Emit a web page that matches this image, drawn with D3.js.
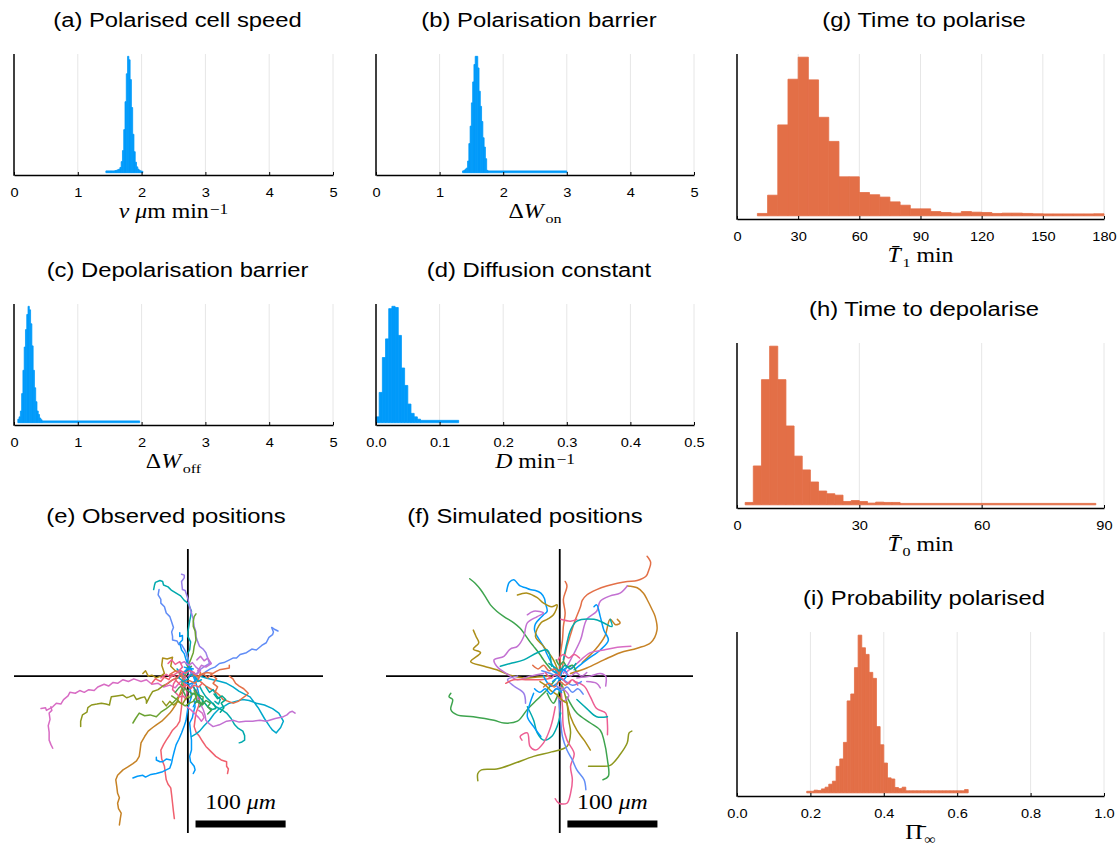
<!DOCTYPE html>
<html>
<head>
<meta charset="utf-8">
<script src="https://cdn.jsdelivr.net/npm/d3@7"></script>
<style>
  body { margin: 0; background: #fff; }
  svg { display: block; }
</style>
</head>
<body>
<svg id="fig" width="1118" height="848"></svg>
<script>
// ---------- posterior histograms (relative counts) ----------
const speedStart = 1.44, speedWidth = 0.02;
const speedCounts = [15, 15, 15, 15, 15, 15, 15, 18, 20, 25, 30, 45, 95, 190, 370, 610, 850, 1000, 970, 800, 560, 330, 180, 90, 50, 30, 20, 15, 12];

const onStart = 1.36, onWidth = 0.02;
const onCounts = [15, 20, 30, 40, 100, 250, 400, 600, 780, 930, 1000, 1000, 900, 700, 570, 440, 300, 220, 120, 20];
const onTail = [1.76, 3.0, 15];

const offStart = 0.06, offWidth = 0.02;
const offCounts = [30, 50, 100, 250, 450, 650, 800, 930, 1000, 970, 850, 660, 450, 300, 180, 100, 70, 40, 25];
const offTail = [0.44, 1.97, 15];

const diffStart = 0.0, diffWidth = 0.005;
const diffCounts = [50, 260, 560, 720, 980, 1000, 990, 750, 470, 320, 160, 80, 50, 30];
const diffTail = [0.07, 0.13, 20];

const t1Start = 10, t1Width = 5;
const t1Counts = [15, 130, 573, 861, 1000, 857, 621, 469, 246, 246, 147, 133, 118, 88, 67, 44, 44, 27, 21, 17, 27, 23, 21, 15, 17, 17, 15, 13, 12, 12, 12, 12, 12, 13];

const t0Start = 2, t0Width = 2;
const t0Counts = [15, 245, 789, 1000, 789, 497, 307, 220, 144, 87, 70, 61, 21, 27, 21, 11, 17, 15, 15];
const t0Tail = [40, 88, 9];

const piStart = 0.19, piWidth = 0.01;
const piCounts = [10, 10, 17, 15, 25, 36, 55, 74, 168, 215, 320, 583, 627, 794, 1000, 920, 878, 764, 726, 420, 305, 189, 95, 88, 34, 27, 36,
  13, 13, 13, 13, 13, 13, 13, 13, 13, 13, 13, 13, 13, 13, 13, 13, 21];

// ---------- tick values ----------
const unitTicks = [0, 1, 2, 3, 4, 5];
const diffTicks = [0, 0.1, 0.2, 0.3, 0.4, 0.5];
const t1Ticks = [0, 30, 60, 90, 120, 150, 180];
const t0Ticks = [0, 30, 60, 90];
const piTicks = [0, 0.2, 0.4, 0.6, 0.8, 1.0];

// ---------- cell tracks, positions in micrometres relative to start ----------
const observedTracks = [
  [[-38,96],[-37,101],[-36,104],[-31,106],[-28,105],[-27,101],[-22,99],[-18,95],[-13,92],[-8,89],[-4,84],[0,81],[2,77],[4,72],[3,66],[2,61],[1,55],[0,49],[0,44],[3,38],[2,29],[-1,24],[0,19],[-2,14],[1,9],[0,3]],
  [[-32,96],[-33,90],[-30,85],[-30,81],[-26,77],[-24,70],[-20,66],[-18,60],[-16,54],[-18,49],[-17,44],[-17,40],[-12,39],[-10,35],[-7,35],[-4,30],[-2,26],[0,20],[2,11],[3,5],[4,0]],
  [[-7,113],[-4,112],[-4,109],[-7,105],[-6,96],[-3,95],[-2,92],[0,86],[2,77],[4,70],[6,63],[7,55],[9,49],[9,44],[11,38],[13,33],[17,30],[20,26],[22,20],[24,14],[19,11],[13,7],[10,3],[6,0]],
  [[9,69],[7,66],[6,61],[6,55],[8,50],[9,40],[7,33],[6,26],[3,18],[0,11],[-2,4],[-4,-4]],
  [[-9,48],[-9,44],[-6,45],[-6,40],[-9,37],[-7,29],[-4,25],[-2,18],[1,12],[4,7],[6,0],[9,-8],[11,-15],[13,-23],[9,-28],[6,-34]],
  [[100,50],[96,52],[93,54],[95,49],[94,46],[90,43],[87,37],[82,34],[76,29],[71,30],[65,26],[58,24],[54,20],[50,20],[44,17],[40,15],[35,14],[30,10],[25,8],[20,5],[15,1],[9,-4],[5,-9],[2,-15]],
  [[-163,-36],[-158,-35],[-157,-38],[-150,-34],[-146,-30],[-141,-31],[-138,-26],[-133,-22],[-131,-18],[-125,-19],[-120,-16],[-115,-18],[-110,-15],[-104,-16],[-100,-12],[-93,-9],[-88,-11],[-83,-7],[-78,-8],[-72,-4],[-66,-6],[-60,-3],[-52,-6],[-46,-4],[-40,-9],[-33,-8],[-27,-12],[-20,-10],[-14,-13],[-9,-7],[-4,-4],[-2,-1]],
  [[-152,-34],[-151,-38],[-154,-41],[-153,-48],[-155,-55],[-154,-62],[-154,-71],[-152,-76],[-150,-80]],
  [[-119,-56],[-119,-50],[-117,-43],[-112,-40],[-111,-35],[-107,-32],[-101,-31],[-96,-30],[-91,-31],[-87,-32],[-86,-27],[-85,-23],[-79,-22],[-72,-21],[-68,-24],[-65,-23],[-60,-21],[-57,-26],[-52,-24],[-48,-23],[-46,-27],[-46,-30],[-42,-22],[-39,-17],[-33,-15],[-28,-11],[-22,-8],[-17,-4],[-11,-2],[-7,1]],
  [[-61,-52],[-58,-47],[-54,-41],[-48,-44],[-42,-43],[-35,-45],[-30,-40],[-24,-36],[-19,-32],[-13,-26],[-9,-21],[-4,-15]],
  [[-76,-165],[-75,-158],[-74,-152],[-77,-147],[-78,-141],[-76,-135],[-78,-130],[-79,-122],[-80,-115],[-78,-110],[-72,-104],[-67,-101],[-61,-97],[-57,-94],[-54,-89],[-53,-82],[-52,-74],[-48,-67],[-44,-61],[-39,-57],[-35,-54],[-29,-50],[-24,-45],[-20,-41],[-17,-37],[-13,-31],[-11,-26],[-9,-20],[-7,-15],[-5,-9],[-4,-4]],
  [[-50,3],[-47,6],[-44,0],[-40,1],[-35,-2],[-30,0],[-26,3],[-29,12],[-28,20],[-23,19],[-17,21],[-18,16],[-19,11],[-14,6],[-9,3]],
  [[-15,-158],[-16,-150],[-17,-141],[-18,-132],[-19,-124],[-22,-120],[-24,-115],[-25,-108],[-26,-100],[-29,-92],[-30,-82],[-27,-76],[-24,-71],[-20,-65],[-17,-60],[-12,-55],[-9,-50],[-8,-42],[-7,-34],[-7,-26],[-6,-19],[-4,-13],[-2,-8]],
  [[-61,-113],[-56,-111],[-50,-110],[-47,-112],[-41,-109],[-35,-108],[-28,-106],[-20,-102],[-18,-96],[-17,-91],[-15,-83],[-13,-76],[-10,-70],[-7,-63],[-4,-55],[-2,-49],[-1,-42],[0,-36],[2,-29],[4,-23],[3,-16],[2,-11]],
  [[-35,-90],[-35,-93],[-31,-95],[-28,-95],[-24,-92],[-19,-93]],
  [[6,-108],[8,-104],[7,-100],[3,-95],[2,-89],[4,-82],[4,-71],[3,-62],[2,-52],[5,-46],[6,-41],[8,-34],[7,-26]],
  [[44,-108],[45,-103],[43,-100],[43,-95],[37,-93],[31,-89],[26,-84],[20,-78],[16,-72],[13,-67],[9,-62],[7,-56],[8,-48],[9,-41],[12,-33],[13,-26],[11,-20],[9,-15]],
  [[4,-67],[9,-64],[13,-61],[18,-55],[24,-49],[29,-42],[35,-36],[41,-33],[46,-30],[53,-28],[61,-26],[68,-27],[76,-30],[85,-32],[94,-36],[101,-41],[106,-50],[103,-57],[98,-63],[94,-60],[91,-56],[85,-47],[78,-35],[69,-23],[63,-20],[57,-17],[50,-12],[43,-8],[36,-6],[28,-4],[20,-2],[13,0]],
  [[57,-74],[60,-73],[63,-71],[63,-66],[61,-61],[56,-58],[52,-54],[48,-47],[43,-41],[37,-37],[31,-34],[25,-28],[20,-23],[16,-17],[13,-11]],
  [[119,-41],[116,-39],[113,-40],[110,-43],[106,-45],[97,-47],[87,-50],[80,-49],[72,-50],[64,-50],[57,-51],[50,-49],[43,-50],[35,-54],[28,-56],[24,-53],[20,-49],[19,-43],[17,-37],[14,-31],[11,-26],[8,-18],[6,-11]],
  [[46,0],[50,-3],[53,-8],[57,-11],[62,-14],[67,-19],[64,-22],[61,-24],[56,-28],[50,-30],[45,-28],[39,-26],[35,-21],[30,-17],[25,-14],[20,-11],[15,-7],[11,-4]],
  [[46,12],[46,9],[40,8],[35,7],[31,5],[28,3],[21,4],[15,2],[10,-1],[5,0]],
  [[13,-34],[16,-29],[17,-23],[12,-21],[6,-19],[2,-24],[-2,-23],[-5,-17],[-7,-11],[-6,-4],[-4,3],[0,7],[4,11]],
  [[-13,-4],[-16,-9],[-17,-15],[-13,-19],[-9,-23],[-5,-22],[-2,-26],[-1,-18],[-4,-8],[-6,3]],
  [[28,-30],[30,-33],[31,-36],[27,-37],[22,-34],[18,-29],[13,-23],[9,-17],[6,-11]],
  [[-4,10],[-1,9],[3,6],[6,2],[9,-4],[6,-7],[2,-9],[-3,-7],[-6,-3],[-5,2],[-3,6],[2,9],[6,8]],
  [[-20,2],[-15,5],[-10,6],[-7,0],[-4,-6],[2,-5],[8,-8],[12,-3],[14,4]],
  [[-14,-18],[-10,-13],[-6,-10],[-3,-14],[0,-16],[4,-19],[8,-20],[9,-24],[10,-28],[14,-31],[18,-30]],
  [[-25,-10],[-20,-6],[-15,-3],[-11,-7],[-6,-12],[-1,-10],[3,-14],[7,-10],[12,-12],[16,-8]],
  [[-8,14],[-4,16],[1,12],[5,15],[9,10],[14,6],[10,2],[5,4],[0,0]],
  [[-12,8],[-8,4],[-10,-2],[-5,-6],[0,-3],[4,2],[8,0],[11,-6],[15,-4]],
  [[-18,-22],[-12,-26],[-8,-30],[-3,-33],[2,-30],[6,-28],[10,-22],[7,-16]],
  [[20,-12],[24,-18],[28,-15],[32,-22],[36,-26],[34,-31],[30,-28]],
  [[-30,-2],[-24,2],[-19,-1],[-13,3],[-8,6],[-3,3],[2,6],[7,4]],
  [[12,-38],[16,-41],[18,-46],[15,-50],[12,-46],[8,-42],[4,-38],[-1,-34]],
  [[-40,-8],[-36,-3],[-30,-6],[-26,-1],[-21,-4],[-18,2],[-12,-2],[-8,3],[-3,-1]],
  [[30,-18],[33,-12],[28,-8],[32,-3],[26,2],[22,-2],[17,3],[12,-1],[6,2]],
  [[-28,-28],[-24,-33],[-20,-28],[-16,-32],[-11,-28],[-6,-31],[-3,-26],[1,-22]],
  [[22,-42],[26,-38],[22,-34],[25,-30],[20,-27],[16,-32],[12,-27],[8,-30]],
  [[-22,14],[-18,18],[-14,13],[-9,16],[-6,10],[-10,6],[-4,4]],
  [[10,18],[14,22],[18,17],[22,20],[26,14],[20,10],[15,12],[11,6]],
  [[36,-40],[40,-35],[37,-30],[42,-26],[38,-22],[33,-25],[29,-20]]
];
const observedSeries = [5,12,11,15,0,12,14,14,9,15,7,4,13,0,0,0,13,10,5,3,1,1,2,6,8,0,1,2,13,3,10,15,5,6,14,13,1,9,2,6,3,8];

const simulatedTracks = [
  [[-100,108],[-94,103],[-88,96],[-82,87],[-77,79],[-70,72],[-62,66],[-51,59],[-44,53],[-40,48],[-33,38],[-29,33],[-22,24],[-18,18],[-9,7],[-1,1]],
  [[-59,94],[-58,99],[-56,104],[-51,107],[-47,103],[-44,100],[-38,98],[-33,96],[-27,95],[-21,92],[-17,86],[-16,81],[-14,72],[-18,68],[-21,65],[-27,58],[-28,51],[-25,44],[-18,33],[-14,24],[-9,14],[-3,3]],
  [[-47,90],[-36,92],[-25,87],[-18,81],[-9,77],[-3,79],[-7,68],[-14,63],[-21,59],[-27,44],[-18,33],[-7,18],[-1,3]],
  [[-96,51],[-93,44],[-90,37],[-96,30],[-88,26],[-99,16],[-84,11],[-70,7],[-55,1],[-40,-2],[-25,-1],[-10,0]],
  [[97,133],[101,126],[99,118],[96,111],[86,106],[75,105],[64,103],[52,100],[41,96],[30,90],[25,84],[23,77],[16,59],[12,46],[8,33],[3,11],[1,1]],
  [[75,100],[86,98],[93,92],[97,85],[102,75],[106,66],[108,51],[101,37],[86,31],[67,26],[49,18],[30,9],[12,3]],
  [[64,63],[67,59],[62,57],[56,63],[50,44],[40,30],[25,15]],
  [[75,100],[67,92],[56,89],[45,83],[41,72],[30,63],[23,40],[12,18],[4,3]],
  [[38,77],[41,79],[45,66],[49,51],[54,40],[45,29],[30,18],[16,7]],
  [[56,63],[58,55],[49,59],[38,63],[19,61],[12,51],[8,37],[4,18]],
  [[79,33],[64,32],[49,29],[34,26],[19,14],[8,5]],
  [[6,105],[8,100],[4,85],[6,70],[4,55],[3,40],[1,26],[0,3]],
  [[1,63],[12,61],[19,63]],
  [[-36,68],[-29,72],[-18,70],[-25,66],[-36,59],[-40,44],[-47,33],[-55,30],[-62,22],[-73,18],[-70,11],[-58,2],[-47,-4],[-33,0],[-18,3]],
  [[-66,11],[-55,14],[-40,18],[-25,26],[-14,29],[-9,11]],
  [[-121,-19],[-123,-23],[-119,-26],[-121,-37],[-114,-43],[-96,-45],[-73,-49],[-62,-52],[-47,-50],[-36,-37],[-25,-26],[-14,-15],[-5,-4]],
  [[-91,-116],[-91,-108],[-87,-104],[-70,-103],[-51,-97],[-29,-89],[-9,-84],[8,-78],[12,-63],[10,-49],[8,-30],[3,-11]],
  [[-5,-136],[-1,-141],[8,-141],[12,-130],[14,-115],[12,-100],[16,-86],[8,-71],[4,-56],[3,-34],[1,-11]],
  [[29,-126],[27,-115],[19,-104],[14,-93],[8,-82],[3,-67],[1,-49],[-1,-26]],
  [[80,-61],[77,-63],[75,-74],[67,-87],[56,-99],[45,-100],[32,-100]],
  [[48,-115],[54,-111],[53,-93],[49,-71],[45,-60],[34,-52],[19,-41],[8,-23]],
  [[34,-82],[27,-71],[19,-60],[12,-45],[8,-30]],
  [[53,-65],[53,-54],[51,-41],[41,-36],[34,-23],[27,-11],[16,-6]],
  [[51,-11],[51,0],[45,3],[34,0],[19,-2]],
  [[45,-13],[41,-8],[30,-6]],
  [[53,-45],[41,-45],[30,-36],[19,-26]],
  [[-36,-34],[-29,-49],[-25,-63],[-18,-71],[-9,-67],[-3,-56],[1,-41]],
  [[-42,-71],[-44,-67],[-36,-63],[-33,-78],[-27,-82],[-18,-74],[-10,-56],[-5,-34]],
  [[-29,-19],[-33,-30],[-36,-45],[-29,-56],[-21,-67]],
  [[-38,-30],[-40,-19],[-51,-11],[-58,-4],[-47,0]],
  [[-60,-8],[-51,-4],[-36,-4],[-21,-4],[-9,-2]],
  [[-18,0],[-10,-11],[-3,-8],[4,7],[12,11]],
  [[-14,-19],[-7,-30],[-3,-23],[3,-8]],
  [[-20,6],[-8,2],[4,-4],[14,-10],[24,-6]],
  [[-10,8],[-4,4],[2,8],[8,3],[4,-4],[-2,-2],[-8,-6]],
  [[12,-6],[6,-10],[0,-6],[-6,-12],[-12,-8],[-18,-12]],
  [[-4,18],[0,12],[4,16],[8,10],[14,12],[18,6]],
  [[-16,4],[-10,-2],[-4,2],[2,-2],[8,-8],[14,-4],[20,-10]],
  [[-6,-16],[0,-12],[6,-16],[10,-22],[4,-28],[-2,-24]],
  [[18,14],[12,8],[6,12],[0,6],[-6,10],[-12,14]],
  [[-22,-6],[-16,-10],[-10,-16],[-4,-20],[2,-26],[8,-30]],
  [[-30,12],[-24,8],[-18,12],[-12,6],[-6,8],[0,2]],
  [[26,-20],[20,-14],[14,-18],[8,-12],[2,-16],[-4,-10]],
  [[-28,-14],[-22,-18],[-16,-14],[-10,-20],[-4,-14],[2,-18]],
  [[22,20],[16,24],[10,20],[4,24],[-2,18]],
  [[30,4],[24,0],[18,4],[12,0],[6,4]]
];
const simulatedSeries = [2,0,4,4,1,7,7,3,0,5,14,1,6,3,5,2,9,6,12,9,2,4,6,3,3,5,5,6,0,11,13,0,2,12,0,1,2,6,3,5,4,1,12,0,6,3];

// scale bar: start and length (micrometres)
const scaleBar = [8.5, 100];

// ---------- styling ----------
const palette = ["#009AFA","#E36F47","#3EA44E","#C371D2","#AC8E18","#00A9AD","#ED5E93","#C68225",
                 "#00A98D","#8E971D","#00A8CB","#9B7FE9","#618DF6","#F0606E","#D86CC4","#6BA232"];
const BLUE = "#009AFA", ORANGE = "#E36F47";
const SANS = "'Liberation Sans', Arial, Helvetica, sans-serif";
const SERIF = "'Liberation Serif', 'Times New Roman', serif";
const SX = 1.19;   // horizontal stretch of the typeset text

const svg = d3.select("#fig");
svg.append("rect").attr("width", 1118).attr("height", 848).attr("fill", "#fff");

function stretched(parent, x, y) {
  return parent.append("g").attr("transform", `translate(${x},${y}) scale(${SX},1)`);
}

function title(text, cx, y) {
  stretched(svg, cx, y).append("text")
    .attr("text-anchor", "middle")
    .attr("font-family", SANS).attr("font-size", 20).attr("fill", "#000")
    .text(text);
}

// math-style label built from [text, kind] parts
function mathLabel(parts, cx, y) {
  const t = stretched(svg, cx, y).append("text")
    .attr("text-anchor", "middle")
    .attr("font-family", SERIF).attr("font-size", 20).attr("fill", "#000");
  let shift = 0;
  parts.forEach(([s, kind]) => {
    const ts = t.append("tspan").text(s);
    if (kind === "i") ts.attr("font-style", "italic");
    if (kind === "sub") { ts.attr("font-size", 13.5).attr("dy", 5 - shift).attr("dx", 1.5); shift = 5; }
    else if (kind === "sup") { ts.attr("font-size", 14.5).attr("dy", -4.5 - shift).attr("dx", 1); shift = -4.5; }
    else if (shift !== 0) { ts.attr("dy", -shift); shift = 0; }
  });
}

function histogram(p) {
  const xs = d3.scaleLinear().domain(p.domain).range([p.x0, p.x1]);
  const maxC = d3.max(p.counts);
  const ys = d3.scaleLinear().domain([-0.02 * maxC, 1.02 * maxC]).range([p.axis, p.top]);
  const g = svg.append("g");

  // vertical grid
  g.selectAll("line.grid").data(p.ticks.slice(1)).join("line")
    .attr("x1", d => xs(d)).attr("x2", d => xs(d))
    .attr("y1", p.top).attr("y2", p.axis)
    .attr("stroke", "#e6e6e6").attr("stroke-width", 1);

  const bins = p.counts.map((c, i) => ({ a: p.start + i * p.width, b: p.start + (i + 1) * p.width, c }));
  if (p.tail) bins.push({ a: p.tail[0], b: p.tail[1], c: p.tail[2] });

  g.selectAll("rect.bar").data(bins).join("rect")
    .attr("x", d => xs(d.a)).attr("width", d => xs(d.b) - xs(d.a))
    .attr("y", d => ys(d.c)).attr("height", d => ys(0) - ys(d.c))
    .attr("fill", p.color).attr("stroke", p.color).attr("stroke-width", 0.8)
    .attr("stroke-linejoin", "round");

  // axes
  const ax = d3.axisBottom(xs).tickValues(p.ticks).tickFormat(p.fmt)
    .tickSizeInner(-3).tickSizeOuter(0).tickPadding(13.5);
  const ag = g.append("g").attr("transform", `translate(0,${p.axis})`).call(ax);
  ag.select(".domain").attr("stroke", "#000").attr("stroke-width", 1.5);
  ag.selectAll(".tick line").attr("stroke", "#000").attr("stroke-width", 1);
  ag.selectAll(".tick text")
    .attr("font-family", SANS).attr("font-size", 12.3).attr("fill", "#000")
    .attr("transform", `scale(${SX},1)`);
  g.append("line").attr("x1", p.x0).attr("x2", p.x0).attr("y1", p.top).attr("y2", p.axis + 0.75)
    .attr("stroke", "#000").attr("stroke-width", 1.5);

  title(p.title, p.titleX, p.top - 27.3);
  mathLabel(p.label, (p.x0 + p.x1) / 2, p.axis + 43);
}

const fInt = d3.format("d"), f1 = d3.format(".1f");

histogram({ title: "(a) Polarised cell speed", titleX: 177.5, x0: 14, x1: 333, top: 54, axis: 175,
  domain: [0, 5], ticks: unitTicks, fmt: fInt, color: BLUE,
  start: speedStart, width: speedWidth, counts: speedCounts,
  label: [["v","i"],[" "],["μ","i"],["m min"],["−1","sup"]] });
histogram({ title: "(b) Polarisation barrier", titleX: 539, x0: 376, x1: 694, top: 54, axis: 175,
  domain: [0, 5], ticks: unitTicks, fmt: fInt, color: BLUE,
  start: onStart, width: onWidth, counts: onCounts, tail: onTail,
  label: [["Δ"],["W","i"],["on","sub"]] });
histogram({ title: "(c) Depolarisation barrier", titleX: 177.5, x0: 14, x1: 333, top: 304, axis: 425,
  domain: [0, 5], ticks: unitTicks, fmt: fInt, color: BLUE,
  start: offStart, width: offWidth, counts: offCounts, tail: offTail,
  label: [["Δ"],["W","i"],["off","sub"]] });
histogram({ title: "(d) Diffusion constant", titleX: 539, x0: 376, x1: 694, top: 304, axis: 425,
  domain: [0, 0.5], ticks: diffTicks, fmt: f1, color: BLUE,
  start: diffStart, width: diffWidth, counts: diffCounts, tail: diffTail,
  label: [["D","i"],[" min"],["−1","sup"]] });
histogram({ title: "(g) Time to polarise", titleX: 924, x0: 737, x1: 1104, top: 54, axis: 219,
  domain: [0, 180], ticks: t1Ticks, fmt: fInt, color: ORANGE,
  start: t1Start, width: t1Width, counts: t1Counts,
  label: [["T\u0304","i"],["1","sub"],[" min"]] });
histogram({ title: "(h) Time to depolarise", titleX: 924, x0: 737, x1: 1104, top: 343, axis: 508,
  domain: [0, 90], ticks: t0Ticks, fmt: fInt, color: ORANGE,
  start: t0Start, width: t0Width, counts: t0Counts, tail: t0Tail,
  label: [["T\u0304","i"],["0","sub"],[" min"]] });
histogram({ title: "(i) Probability polarised", titleX: 924, x0: 737, x1: 1104, top: 632, axis: 796,
  domain: [0, 1], ticks: piTicks, fmt: f1, color: ORANGE,
  start: piStart, width: piWidth, counts: piCounts,
  label: [["Π\u0304"],["∞","sub"]] });

// ---------- track panels ----------
function trackPanel(p) {
  const xs = d3.scaleLinear().domain(p.xDomain).range([p.x0, p.x1]);
  const ys = d3.scaleLinear().domain([-174, 141]).range([833, 549]);
  const g = svg.append("g");
  g.append("line").attr("x1", p.x0).attr("x2", p.x1).attr("y1", ys(0)).attr("y2", ys(0))
    .attr("stroke", "#000").attr("stroke-width", 1.8);
  g.append("line").attr("x1", xs(0)).attr("x2", xs(0)).attr("y1", 549).attr("y2", 833)
    .attr("stroke", "#000").attr("stroke-width", 1.8);

  const line = d3.line().x(d => xs(d[0])).y(d => ys(d[1])).curve(p.curve);
  g.selectAll("path.track").data(p.tracks).join("path")
    .attr("d", line).attr("fill", "none")
    .attr("stroke", (d, i) => palette[p.series[i]])
    .attr("stroke-width", 1.5).attr("stroke-linejoin", "round").attr("stroke-linecap", "round");

  // scale bar
  g.append("rect")
    .attr("x", xs(scaleBar[0])).attr("width", xs(scaleBar[0] + scaleBar[1]) - xs(scaleBar[0]))
    .attr("y", ys(-164) - 3.5).attr("height", 7).attr("fill", "#000");
  const lt = stretched(g, xs(scaleBar[0] + scaleBar[1] / 2), ys(-147)).append("text")
    .attr("text-anchor", "middle").attr("font-family", SERIF).attr("font-size", 20).attr("fill", "#000");
  lt.append("tspan").text(scaleBar[1] + " ");
  lt.append("tspan").attr("font-style", "italic").text("μm");

  title(p.title, p.titleX, 523);
}

trackPanel({ title: "(e) Observed positions", titleX: 166, x0: 14, x1: 323, xDomain: [-193, 150],
  tracks: observedTracks, series: observedSeries, curve: d3.curveLinear });
trackPanel({ title: "(f) Simulated positions", titleX: 525, x0: 386, x1: 693, xDomain: [-193, 148],
  tracks: simulatedTracks, series: simulatedSeries, curve: d3.curveCatmullRom.alpha(0.5) });
</script>
</body>
</html>
